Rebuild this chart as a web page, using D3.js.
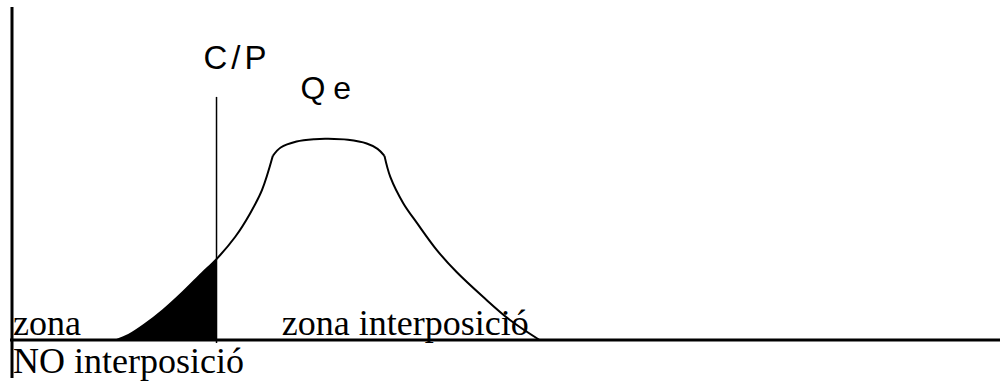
<!DOCTYPE html>
<html>
<head>
<meta charset="utf-8">
<script src="https://cdn.jsdelivr.net/npm/d3@7"></script>
<style>
  body { margin: 0; background: white; }
</style>
</head>
<body>
<svg id="chart"></svg>
<script>
// curve of Qe, in chart units (x 0-100, y 0-100)
var risingX = [10.6, 11.8, 13.4, 15.3, 17.3, 19.2, 20.7, 22.6, 24.1, 25.3, 26.4]
var risingY = [0, 1.5, 4.6, 9.0, 14.4, 20.0, 24.3, 31.0, 38.0, 45.0, 55.3]

var topX = [26.4, 27.2, 28.8, 30.6, 32.0, 34.0, 35.9, 37.0, 37.7]
var topY = [55.3, 57.8, 59.6, 60.3, 60.4, 60.1, 59.0, 57.4, 55.3]

var fallingX = [37.7, 38.3, 39.6, 41.0, 43.0, 45.0, 47.7, 50.4, 53.4]
var fallingY = [55.3, 48.9, 41.1, 35.1, 27.0, 20.4, 12.9, 6.0, 0]

var cpX = 20.7
var cpTop = 73

var labels = ["C/P", "Qe", "zona", "NO interposició", "zona interposició"]

var svg_dimensions = {
    width: 1000,
    height: 382,
    margin: {
        top: 7,
        bottom: 42,
        left: 12,
        right: 0
    }
}

var svg = d3.select("#chart")
            .attr("width", svg_dimensions.width)
            .attr("height", svg_dimensions.height)

var xScale = d3.scaleLinear()
               .domain([0, 100])
               .range([svg_dimensions.margin.left, svg_dimensions.width - svg_dimensions.margin.right])

var yScale = d3.scaleLinear()
               .domain([0, 100])
               .range([svg_dimensions.height - svg_dimensions.margin.bottom, svg_dimensions.margin.top])

var toPoints = (xs, ys) => xs.map((x, i) => [x, ys[i]])

var rising = toPoints(risingX, risingY)
var top_arc = toPoints(topX, topY)
var falling = toPoints(fallingX, fallingY)

// shaded part left of C/P
var shaded = rising.filter(d => d[0] <= cpX)

var areaGen = d3.area()
                .x(d => xScale(d[0]))
                .y0(yScale(0))
                .y1(d => yScale(d[1]))
                .curve(d3.curveCatmullRom)

svg.append("path")
   .datum(shaded)
   .attr("d", areaGen)
   .attr("fill", "black")

var lineGen = d3.line()
                .x(d => xScale(d[0]))
                .y(d => yScale(d[1]))
                .curve(d3.curveCatmullRom)

var segments = [rising, top_arc, falling]

svg.append("g")
   .selectAll("path")
   .data(segments)
   .enter()
   .append("path")
   .attr("d", lineGen)
   .attr("fill", "none")
   .attr("stroke", "black")
   .attr("stroke-width", 2)

// C/P line
svg.append("line")
   .attr("x1", xScale(cpX))
   .attr("x2", xScale(cpX))
   .attr("y1", yScale(cpTop))
   .attr("y2", yScale(0) + 3)
   .attr("stroke", "black")
   .attr("stroke-width", 1.5)

// axes
svg.append("line")
   .attr("x1", xScale(0) - 2)
   .attr("x2", svg_dimensions.width)
   .attr("y1", yScale(0))
   .attr("y2", yScale(0))
   .attr("stroke", "black")
   .attr("stroke-width", 3)

svg.append("line")
   .attr("x1", xScale(0))
   .attr("x2", xScale(0))
   .attr("y1", svg_dimensions.margin.top)
   .attr("y2", svg_dimensions.height - 4)
   .attr("stroke", "black")
   .attr("stroke-width", 3)

// labels
svg.append("text")
   .attr("x", xScale(cpX) - 13)
   .attr("y", 69)
   .attr("font-family", "Liberation Sans, Arial, sans-serif")
   .attr("font-size", "33px")
   .attr("letter-spacing", "4px")
   .text(labels[0])

svg.append("text")
   .attr("x", xScale(29.3) - 1)
   .attr("y", 99)
   .attr("font-family", "Liberation Sans, Arial, sans-serif")
   .attr("font-size", "32px")
   .attr("letter-spacing", "8px")
   .text(labels[1])

var serif = "Liberation Serif, Times New Roman, serif"

svg.append("text")
   .attr("x", xScale(0) + 1)
   .attr("y", yScale(0) - 5)
   .attr("font-family", serif)
   .attr("font-size", "36px")
   .text(labels[2])

svg.append("text")
   .attr("x", xScale(0) + 1)
   .attr("y", yScale(0) + 33)
   .attr("font-family", serif)
   .attr("font-size", "36px")
   .text(labels[3])

svg.append("text")
   .attr("x", xScale(27.3))
   .attr("y", yScale(0) - 5)
   .attr("font-family", serif)
   .attr("font-size", "36px")
   .text(labels[4])
</script>
</body>
</html>
